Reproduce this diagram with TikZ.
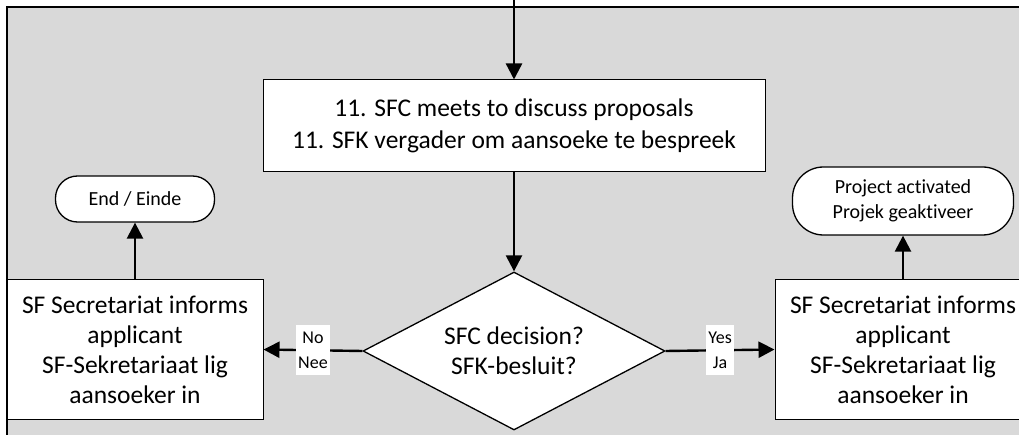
\documentclass[tikz,border=0pt]{standalone}
\usepackage{fontspec}
\setmainfont[RawFeature={-liga}]{Carlito}
\usetikzlibrary{shapes.geometric,arrows.meta}
\definecolor{bg}{HTML}{D9D9D9}
\begin{document}
\begin{tikzpicture}[x=1pt,y=-1pt,
  box/.style={draw=black,line width=1pt,fill=white,align=center,font=\fontsize{25.5}{30}\selectfont,inner sep=0pt},
  term/.style={draw=black,line width=1.3pt,fill=white,align=center,font=\fontsize{20}{25}\selectfont,inner sep=0pt},
  dec/.style={draw=black,line width=1.3pt,fill=white,diamond,aspect=1.91,minimum width=302pt,minimum height=158pt,inner sep=0pt,align=center,font=\fontsize{25.5}{30}\selectfont},
  lab/.style={fill=white,align=center,font=\fontsize{18}{25}\selectfont,inner sep=2pt,minimum height=50pt},
  arr/.style={line width=2.4pt,-{Triangle[length=16pt,width=16pt]}}]
\useasboundingbox (0,0) rectangle (1019,435);
\clip (0,0) rectangle (1019,435);
\draw[fill=bg,line width=1.2pt] (7,7) rectangle (1040,460);
\coordinate (in) at (514,0);
\node[box,minimum width=502pt,minimum height=92pt,font=\fontsize{25.5}{32}\selectfont] (top) at (514,126) {11. SFC meets to discuss proposals\\11. SFK vergader om aansoeke te bespreek};
\node[dec] (dec) at (514,351) {SFC decision?\\SFK-besluit?};
\node[box,minimum width=256pt,minimum height=139pt] (lb) at (135,349.5) {SF Secretariat informs\\applicant\\SF-Sekretariaat lig\\aansoeker in};
\node[box,minimum width=256pt,minimum height=139pt] (rb) at (903,349.5) {SF Secretariat informs\\applicant\\SF-Sekretariaat lig\\aansoeker in};
\node[term,rounded corners=22pt,minimum width=159pt,minimum height=46pt] (end) at (135,199) {End / Einde};
\node[term,rounded corners=31pt,minimum width=221pt,minimum height=68pt] (proj) at (903,201) {Project activated\\Projek geaktiveer};
\draw[arr] (in) -- (top.north);
\draw[arr] (top.south) -- (dec.north);
\draw[arr] (dec.west) -- node[lab]{No\\Nee} (lb.east);
\draw[arr] (dec.east) -- node[lab]{Yes\\Ja} (rb.west);
\draw[arr] (lb.north) -- (end.south);
\draw[arr] (rb.north) -- (proj.south);
\end{tikzpicture}
\end{document}
